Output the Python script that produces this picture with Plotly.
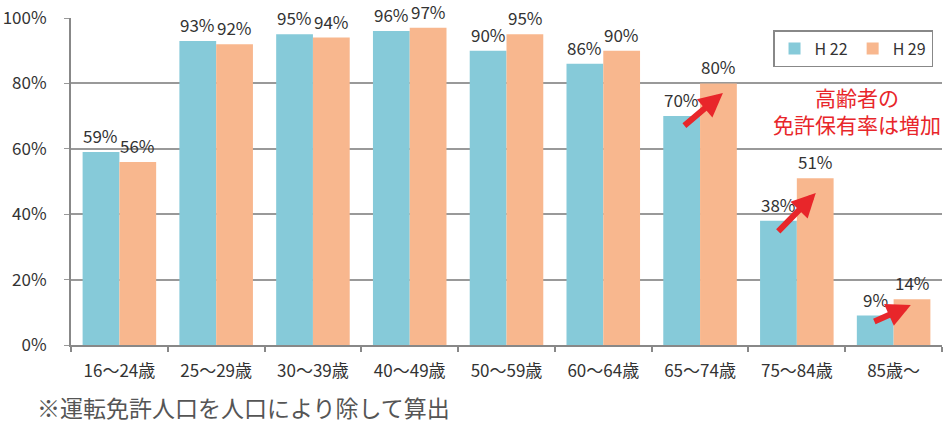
import plotly.graph_objects as go

categories = ["16～24歳", "25～29歳", "30～39歳", "40～49歳", "50～59歳", "60～64歳", "65～74歳", "75～84歳", "85歳～"]
h22 = [59, 93, 95, 96, 90, 86, 70, 38, 9]
h29 = [56, 92, 94, 97, 95, 90, 80, 51, 14]
series_names = ["H 22", "H 29"]
y_ticks = [0, 20, 40, 60, 80, 100]
y_ticklabels = ["0%", "20%", "40%", "60%", "80%", "100%"]

TEAL = "#86CAD9"
SALMON = "#F8B78E"
RED = "#E8262A"
FONT = "Noto Sans CJK JP, Noto Sans, sans-serif"

fig = go.Figure()
fig.add_trace(go.Bar(x=categories, y=h22, name=series_names[0], marker=dict(color=TEAL, line=dict(width=0)), cliponaxis=False))
fig.add_trace(go.Bar(x=categories, y=h29, name=series_names[1], marker=dict(color=SALMON, line=dict(width=0)), cliponaxis=False))

annotations = []
for i, (a, b) in enumerate(zip(h22, h29)):
    annotations.append(dict(x=i, y=a, xref="x", yref="y", text=f"{a}%", showarrow=False,
                            xshift=-18.5, yshift=16.5, font=dict(size=17, color="#333", family=FONT)))
    annotations.append(dict(x=i, y=b, xref="x", yref="y", text=f"{b}%", showarrow=False,
                            xshift=18.5, yshift=16.5, font=dict(size=17, color="#333", family=FONT)))

# red arrows (tip in data coords, tail offset in px)
arrow_tips = [(6.236, 77.1, -40, 34), (7.196, 46.5, -39, 40), (8.178, 12.2, -38, 17)]
for x, y, ax, ay in arrow_tips:
    annotations.append(dict(x=x, y=y, xref="x", yref="y", ax=ax, ay=ay, axref="pixel", ayref="pixel",
                            text="", showarrow=True, arrowhead=2, arrowsize=0.8, arrowwidth=6,
                            arrowcolor=RED, standoff=0))

annotations.append(dict(x=0.902, y=0.716, xref="paper", yref="paper", text="高齢者の<br>免許保有率は増加",
                        showarrow=False, align="center", xanchor="center", yanchor="middle",
                        font=dict(size=21, color=RED, family=FONT)))
annotations.append(dict(x=-0.041, y=-0.19, xref="paper", yref="paper", text="※運転免許人口を人口により除して算出",
                        showarrow=False, xanchor="left", yanchor="middle",
                        font=dict(size=23, color="#555", family=FONT)))

fig.update_layout(
    width=945, height=424,
    margin=dict(l=71, r=3, t=18, b=79),
    plot_bgcolor="white", paper_bgcolor="white",
    barmode="group", bargap=0.24, bargroupgap=0,
    font=dict(family=FONT, size=17, color="#333"),
    showlegend=True,
    legend=dict(orientation="h", x=0.806, y=0.963, xanchor="left", yanchor="top",
                bordercolor="#888", borderwidth=1.5, font=dict(size=16, color="#333", family=FONT),
                bgcolor="white"),
    annotations=annotations,
    xaxis=dict(showline=True, linecolor="#888", linewidth=2, ticks="outside", tickson="boundaries",
               ticklen=5, tickcolor="#888", tickwidth=1.5, tickfont=dict(size=17, color="#333"),
               ticklabelstandoff=10),
    yaxis=dict(range=[0, 100], tickvals=y_ticks, ticktext=y_ticklabels, showgrid=True,
               gridcolor="#999", gridwidth=1.5, showline=True, linecolor="#888", linewidth=2,
               ticks="outside", ticklen=5, tickcolor="#999", tickfont=dict(size=17, color="#333"),
               ticklabelstandoff=14, zeroline=False),
)
fig.write_html("out.html")
